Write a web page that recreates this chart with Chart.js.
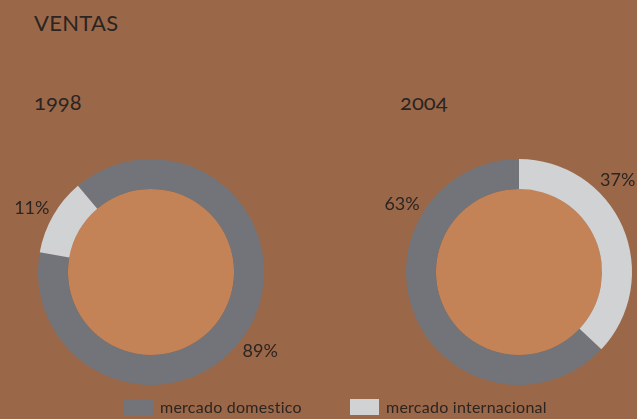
<!DOCTYPE html>
<html>
<head>
<meta charset="utf-8">
<script src="https://cdn.jsdelivr.net/npm/chart.js@4/dist/chart.umd.min.js"></script>
<style>
  html, body { margin: 0; padding: 0; }
  body {
    width: 637px; height: 419px; overflow: hidden; position: relative;
    background: #9a6849; font-family: Lato, "Open Sans", sans-serif; color: #2b2421;
  }
  .titulo { position: absolute; left: 34px; top: 9px; font-size: 22px; letter-spacing: 0.3px; }
  .anio { position: absolute; top: 88px; font-size: 22px; font-variant-numeric: oldstyle-nums; }
  canvas { position: absolute; }
  #leyenda { position: absolute; top: 398px; left: 124px; display: flex; font-size: 16px; line-height: 18px; letter-spacing: 0.25px; }
  #leyenda span.item { display: flex; align-items: center; width: 226px; }
  #leyenda span.cuadro { display: inline-block; width: 29px; height: 16px; margin-right: 7px; }
</style>
</head>
<body>
<div class="titulo">VENTAS</div>
<div class="anio" style="left:34px">1998</div>
<div class="anio" style="left:400px">2004</div>
<canvas id="ventas1998" width="302" height="304" style="left:0px; top:120px"></canvas>
<canvas id="ventas2004" width="302" height="304" style="left:368px; top:120px"></canvas>
<div id="leyenda"></div>

<script>
// Datos de ventas (porcentaje por mercado)
const mercados = ['mercado domestico', 'mercado internacional'];
const ventas1998 = [89, 11];
const ventas2004 = [63, 37];
const colores = ['#727479', '#d1d2d4'];

// Pinta el círculo central y las etiquetas de porcentaje
const pluginVentas = {
    id: 'pluginVentas',
    beforeDatasetsDraw(chart) {
        const arco = chart.getDatasetMeta(0).data[0];
        const c = chart.ctx;
        c.save();
        c.fillStyle = '#c48257';
        c.beginPath();
        c.arc(arco.x, arco.y, arco.innerRadius, 0, Math.PI * 2);
        c.fill();
        c.restore();
    },
    afterDatasetsDraw(chart, args, opts) {
        const meta = chart.getDatasetMeta(0);
        const c = chart.ctx;
        c.save();
        c.fillStyle = '#2b2421';
        c.font = '18px Lato, "Open Sans", sans-serif';
        c.textAlign = 'center';
        c.textBaseline = 'middle';
        meta.data.forEach((arco, i) => {
            const ang = (opts.angulos[i] - 90) * Math.PI / 180;
            const r = arco.outerRadius + opts.distancia;
            const valor = chart.data.datasets[0].data[i];
            c.fillText(valor + '%', arco.x + Math.cos(ang) * r, arco.y + Math.sin(ang) * r);
        });
        c.restore();
    }
};

function crearGrafico(id, datos, rotacion, angulos) {
    return new Chart(document.getElementById(id), {
        type: 'doughnut',
        data: {
            labels: mercados,
            datasets: [{
                data: datos,
                backgroundColor: colores,
                borderWidth: 0
            }]
        },
        options: {
            responsive: false,
            animation: false,
            cutout: '73.5%',
            rotation: rotacion,
            layout: { padding: { left: 38, right: 38, top: 39, bottom: 39 } },
            plugins: {
                legend: { display: false },
                tooltip: { enabled: false },
                pluginVentas: { angulos: angulos, distancia: 22 }
            }
        },
        plugins: [pluginVentas]
    });
}

crearGrafico('ventas1998', ventas1998, -40.3, [126, 298]);
crearGrafico('ventas2004', ventas2004, -226.8, [300, 47]);

// Leyenda en HTML
const leyenda = document.getElementById('leyenda');
leyenda.innerHTML = mercados.map((m, i) =>
    `<span class="item"><span class="cuadro" style="background:${colores[i]}"></span>${m}</span>`
).join('');
</script>
</body>
</html>
